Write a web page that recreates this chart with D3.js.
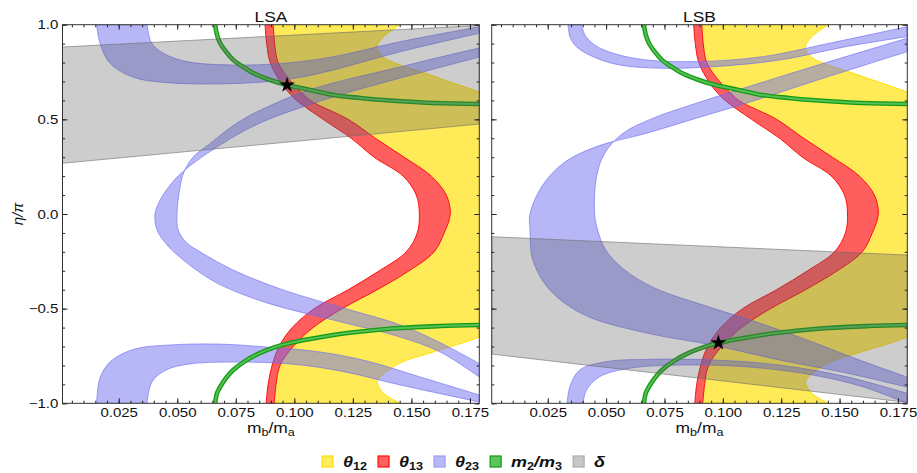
<!DOCTYPE html>
<html>
<head>
<meta charset="utf-8">
<script src="https://cdn.jsdelivr.net/npm/d3@7"></script>
<style>
  body { margin: 0; background: #fff; }
  svg { display: block; }
</style>
</head>
<body>
<svg id="chart" width="917" height="473"></svg>
<script>
// ---- data: [m_b/m_a, eta/pi] ----

// theta12 (yellow) region, left and right boundary, same in both panels
const th12Left = [[0.0892,1.0],[0.0899,0.9],[0.0914,0.8],[0.0963,0.7],[0.1038,0.6],[0.1177,0.5],[0.1294,0.4],[0.1405,0.3],[0.1525,0.2],[0.1585,0.1],[0.1600,0.0],[0.1583,-0.1],[0.1538,-0.2],[0.1427,-0.3],[0.1292,-0.4],[0.1145,-0.5],[0.1035,-0.6],[0.0965,-0.7],[0.0922,-0.8],[0.0905,-0.9],[0.0897,-1.0]];
const th12Right = [[0.1452,1.0],[0.1380,0.935],[0.1354,0.882],[0.1380,0.829],[0.1452,0.787],[0.1525,0.758],[0.1666,0.697],[0.1790,0.644],[0.1900,0.58],[0.1900,-0.58],[0.1790,-0.650],[0.1593,-0.729],[0.1452,-0.787],[0.1367,-0.861],[0.1354,-0.887],[0.1380,-0.946],[0.1452,-1.0]];

// theta13 (red) band edges, same in both panels
const th13Left = [[0.0875,1.0],[0.0882,0.9],[0.0897,0.8],[0.0939,0.7],[0.0970,0.65],[0.1010,0.6],[0.1123,0.5],[0.1243,0.4],[0.1341,0.3],[0.1465,0.2],[0.1521,0.1],[0.1534,0.0],[0.1525,-0.1],[0.1478,-0.2],[0.1363,-0.3],[0.1230,-0.4],[0.1085,-0.5],[0.0991,-0.6],[0.0935,-0.7],[0.0905,-0.8],[0.0888,-0.9],[0.0880,-1.0]];
const th13Right = [[0.0910,1.0],[0.0916,0.9],[0.0931,0.8],[0.0986,0.7],[0.1025,0.65],[0.1068,0.6],[0.1230,0.5],[0.1346,0.4],[0.1469,0.3],[0.1585,0.2],[0.1649,0.1],[0.1666,0.0],[0.1640,-0.1],[0.1597,-0.2],[0.1490,-0.3],[0.1354,-0.4],[0.1204,-0.5],[0.1080,-0.6],[0.0995,-0.7],[0.0939,-0.8],[0.0922,-0.9],[0.0914,-1.0]];

// m2/m3 (green) curves, same in both panels
const m23Upper = [[0.0662,1.0],[0.0670,0.946],[0.0683,0.903],[0.0709,0.856],[0.0739,0.814],[0.0781,0.777],[0.0824,0.745],[0.0897,0.708],[0.0969,0.681],[0.1068,0.655],[0.1166,0.629],[0.1281,0.613],[0.1380,0.602],[0.1593,0.586],[0.1790,0.581]];
const m23Lower = [[0.0662,-1.0],[0.0670,-0.946],[0.0683,-0.914],[0.0709,-0.866],[0.0739,-0.824],[0.0790,-0.777],[0.0854,-0.734],[0.0918,-0.703],[0.0982,-0.681],[0.1068,-0.660],[0.1166,-0.639],[0.1307,-0.618],[0.1452,-0.602],[0.1623,-0.592],[0.1790,-0.586]];

// theta23 (blue), LSA
const lsaS23Inner = [[0.1790,0.877],[0.1623,0.829],[0.1452,0.777],[0.1166,0.692],[0.1025,0.639],[0.0884,0.565],[0.0790,0.507],[0.0713,0.444],[0.0632,0.364],[0.0568,0.301],[0.0529,0.222],[0.0512,0.143],[0.0499,0.0],[0.0504,-0.085],[0.0538,-0.150],[0.0598,-0.200],[0.0739,-0.296],[0.0952,-0.401],[0.1239,-0.507],[0.1450,-0.585],[0.1623,-0.680],[0.1790,-0.790]];
const lsaS23Outer = [[0.1790,0.829],[0.1452,0.718],[0.1166,0.618],[0.0884,0.497],[0.0769,0.428],[0.0670,0.354],[0.0576,0.275],[0.0499,0.195],[0.0448,0.116],[0.0427,0.074],[0.0405,0.0],[0.0414,-0.085],[0.0457,-0.164],[0.0542,-0.259],[0.0670,-0.365],[0.0884,-0.470],[0.1166,-0.560],[0.1452,-0.650],[0.1623,-0.729],[0.1790,-0.861]];
const lsaHookTopIn = [[0.0371,1.0],[0.0391,0.902],[0.0441,0.849],[0.0541,0.805],[0.0740,0.787],[0.0954,0.796],[0.1167,0.831],[0.1452,0.910],[0.1790,0.989]];
const lsaHookTopOut = [[0.0156,1.0],[0.0170,0.902],[0.0213,0.796],[0.0313,0.722],[0.0455,0.694],[0.0669,0.687],[0.0883,0.699],[0.1025,0.722],[0.1167,0.761],[0.1452,0.857],[0.1790,0.955]];
const lsaHookBotIn = [[0.0371,-1.0],[0.0392,-0.887],[0.0452,-0.824],[0.0555,-0.792],[0.0739,-0.782],[0.0982,-0.792],[0.1196,-0.829],[0.1452,-0.903],[0.1790,-0.993]];
const lsaHookBotOut = [[0.0156,-1.0],[0.0170,-0.866],[0.0217,-0.777],[0.0320,-0.713],[0.0470,-0.692],[0.0670,-0.687],[0.0884,-0.703],[0.1110,-0.729],[0.1311,-0.777],[0.1538,-0.861],[0.1790,-0.956]];

// theta23 (blue), LSB
const lsbS23Inner = [[0.1788,0.928],[0.1384,0.778],[0.1100,0.669],[0.0886,0.585],[0.0701,0.506],[0.0572,0.426],[0.0494,0.321],[0.0459,0.197],[0.0451,0.0],[0.0464,-0.085],[0.0498,-0.190],[0.0580,-0.296],[0.0708,-0.391],[0.0956,-0.497],[0.1169,-0.581],[0.1383,-0.676],[0.1597,-0.777],[0.1788,-0.861]];
const lsbS23Outer = [[0.1788,0.857],[0.1384,0.699],[0.1100,0.585],[0.0886,0.506],[0.0672,0.426],[0.0459,0.356],[0.0316,0.268],[0.0224,0.144],[0.0174,0.0],[0.0174,-0.085],[0.0186,-0.243],[0.0259,-0.401],[0.0409,-0.534],[0.0674,-0.629],[0.0956,-0.692],[0.1242,-0.771],[0.1529,-0.840],[0.1788,-0.914]];
const lsbHookTopIn = [[0.0395,1.0],[0.0409,0.946],[0.0451,0.893],[0.0530,0.849],[0.0672,0.814],[0.0886,0.805],[0.1171,0.831],[0.1456,0.902],[0.1788,0.989]];
const lsbHookTopOut = [[0.0337,1.0],[0.0345,0.937],[0.0373,0.884],[0.0444,0.831],[0.0558,0.787],[0.0743,0.770],[0.0957,0.778],[0.1242,0.813],[0.1527,0.884],[0.1788,0.937]];
const lsbHookBotIn = [[0.0401,-1.0],[0.0416,-0.930],[0.0473,-0.859],[0.0601,-0.815],[0.0815,-0.798],[0.1100,-0.807],[0.1384,-0.850],[0.1598,-0.912],[0.1788,-1.0]];
const lsbHookBotOut = [[0.0333,-1.0],[0.0345,-0.912],[0.0387,-0.824],[0.0501,-0.780],[0.0672,-0.768],[0.0957,-0.771],[0.1242,-0.798],[0.1527,-0.859],[0.1788,-0.947]];

// delta (gray) bands
const lsaDeltaUpper = [[0.001,0.882],[0.179,0.996]];
const lsaDeltaLower = [[0.001,0.268],[0.179,0.475]];
const lsbDeltaUpper = [[0.001,-0.120],[0.179,-0.217]];
const lsbDeltaLower = [[0.001,-0.740],[0.179,-0.995]];

// best-fit points
const lsaStar = [0.0969, 0.681];
const lsbStar = [0.0981, -0.680];

// ticks and legend
const xMajorTicks = [0.025, 0.05, 0.075, 0.1, 0.125, 0.15, 0.175];
const yMajorTicks = [-1, -0.5, 0, 0.5, 1];
const legendLabels = [
  [["θ", 0], ["12", 1]],
  [["θ", 0], ["13", 1]],
  [["θ", 0], ["23", 1]],
  [["m", 0], ["2", 1], ["/", 0], ["m", 0], ["3", 1]],
  [["δ", 0]]
];

// ---- styles ----
const fontFam = "'Liberation Sans', Arial, Helvetica, sans-serif";
const stretch = "scale(1.2,1)";
const colors = {
  yellow: "#FFEA57", yellowLine: "#FFE000",
  red: "#FF5E5E", redLine: "#FF1010",
  blue: "rgba(105,105,240,0.48)", blueLine: "rgba(110,110,240,0.7)",
  green: "#139b13", greenIn: "#55c055",
  gray: "rgba(90,90,90,0.3)", grayLine: "rgba(110,110,110,0.6)"
};
const legendFill = ["#FFEA60", "#FF6060", "#B9B9F8", "#5CC65C", "#C6C6C6"];
const legendStroke = ["#FFE000", "#FF1010", "#9C9CEE", "#139b13", "#ADADAD"];

const mDomain = [0.001, 0.179];
const plotTop = 24.7, plotBottom = 403.3;
const svg = d3.select("#chart");

const panels = [
  { title: "LSA", left: 62.5, right: 479.3, yLabels: true,
    s23: [lsaS23Inner, lsaS23Outer], hooks: [[lsaHookTopIn, lsaHookTopOut], [lsaHookBotIn, lsaHookBotOut]],
    delta: [lsaDeltaUpper, lsaDeltaLower], star: lsaStar },
  { title: "LSB", left: 491.7, right: 907.3, yLabels: false,
    s23: [lsbS23Inner, lsbS23Outer], hooks: [[lsbHookTopIn, lsbHookTopOut], [lsbHookBotIn, lsbHookBotOut]],
    delta: [lsbDeltaUpper, lsbDeltaLower], star: lsbStar }
];

panels.forEach((p, i) => {
  const x = d3.scaleLinear().domain(mDomain).range([p.left, p.right]);
  const y = d3.scaleLinear().domain([-1, 1]).range([plotBottom, plotTop]);

  const line = d3.line()
    .x(d => x(d[0]))
    .y(d => y(d[1]))
    .curve(d3.curveCatmullRom.alpha(0.5));
  // closed region between two boundary curves
  const band = (a, b) => line(a) + "L" + line(b.slice().reverse()).slice(1) + "Z";

  svg.append("clipPath").attr("id", "clip" + i)
    .append("rect")
    .attr("x", p.left).attr("y", plotTop)
    .attr("width", p.right - p.left).attr("height", plotBottom - plotTop);

  const g = svg.append("g").attr("clip-path", `url(#clip${i})`);

  // theta12
  g.append("path").attr("d", band(th12Left, th12Right))
    .attr("fill", colors.yellow).attr("stroke", colors.yellowLine).attr("stroke-width", 1);

  // theta13
  g.append("path").attr("d", band(th13Left, th13Right))
    .attr("fill", colors.red).attr("stroke", colors.redLine).attr("stroke-width", 1);

  // theta23
  [p.s23, ...p.hooks].forEach(([a, b]) => {
    g.append("path").attr("d", band(a, b))
      .attr("fill", colors.blue).attr("stroke", colors.blueLine).attr("stroke-width", 0.9);
  });

  // m2/m3
  [m23Upper, m23Lower].forEach(c => {
    g.append("path").attr("d", line(c)).attr("fill", "none")
      .attr("stroke", colors.green).attr("stroke-width", 4.6);
    g.append("path").attr("d", line(c)).attr("fill", "none")
      .attr("stroke", colors.greenIn).attr("stroke-width", 2);
  });

  // delta
  g.append("path").attr("d", band(p.delta[0], p.delta[1]))
    .attr("fill", colors.gray).attr("stroke", colors.grayLine).attr("stroke-width", 1);

  // star
  svg.append("path")
    .attr("d", d3.symbol().type(d3.symbolStar).size(78)())
    .attr("transform", `translate(${x(p.star[0])},${y(p.star[1])})`)
    .attr("fill", "#000");

  // ticks on all four sides, pointing inward
  const xMinor = d3.range(0.005, 0.1751, 0.005);
  const yMinor = d3.range(-1, 1.0001, 0.1);
  const styleAxis = a => a.attr("color", "#222")
    .attr("font-family", fontFam).attr("font-size", 12.5)
    .call(s => s.select(".domain").remove());

  const axes = [
    [d3.axisBottom(x), `translate(0,${plotBottom})`, xMajorTicks, xMinor, true],
    [d3.axisTop(x), `translate(0,${plotTop})`, xMajorTicks, xMinor, false],
    [d3.axisLeft(y), `translate(${p.left},0)`, yMajorTicks, yMinor, p.yLabels],
    [d3.axisRight(y), `translate(${p.right},0)`, yMajorTicks, yMinor, false]
  ];
  axes.forEach(([ax, tr, major, minor, labels]) => {
    const isX = major === xMajorTicks;
    const fmt = isX ? d3.format(".3f") : d3.format(".1f");
    svg.append("g").attr("transform", tr)
      .call(ax.tickValues(minor).tickSize(-2.6).tickFormat(""))
      .call(styleAxis);
    const maj = svg.append("g").attr("transform", tr)
      .call(ax.tickValues(major).tickSize(-5).tickPadding(isX ? 4.5 : 3.5)
        .tickFormat(labels ? fmt : ""))
      .call(styleAxis);
    maj.selectAll("text").attr("transform", stretch).attr("fill", "#111");
  });

  // frame
  svg.append("rect")
    .attr("x", p.left).attr("y", plotTop)
    .attr("width", p.right - p.left).attr("height", plotBottom - plotTop)
    .attr("fill", "none").attr("stroke", "#333").attr("stroke-width", 1);

  // title
  svg.append("text")
    .attr("transform", `translate(${(p.left + p.right) / 2},21.5) ${stretch}`)
    .attr("text-anchor", "middle")
    .attr("font-family", fontFam).attr("font-size", 14.5).attr("fill", "#111")
    .text(p.title);

  // x label m_b/m_a
  const xl = svg.append("text")
    .attr("transform", `translate(${(p.left + p.right) / 2},433) ${stretch}`)
    .attr("text-anchor", "middle")
    .attr("font-family", fontFam).attr("font-size", 14.5).attr("fill", "#111");
  xl.append("tspan").text("m");
  xl.append("tspan").attr("font-size", 10.5).attr("dy", 3).text("b");
  xl.append("tspan").attr("dy", -3).text("/m");
  xl.append("tspan").attr("font-size", 10.5).attr("dy", 3).text("a");
});

// y label
svg.append("text")
  .attr("transform", "translate(23,214) rotate(-90)")
  .attr("text-anchor", "middle")
  .attr("font-family", fontFam).attr("font-size", 15).attr("font-style", "italic")
  .attr("fill", "#111")
  .text("η/π");

// legend
let lx = 322;
legendLabels.forEach((pieces, i) => {
  svg.append("rect")
    .attr("x", lx).attr("y", 456).attr("width", 11).attr("height", 11)
    .attr("fill", legendFill[i]).attr("stroke", legendStroke[i]).attr("stroke-width", 1.2);
  const tx = lx + 21;
  const t = svg.append("text")
    .attr("transform", `translate(${tx},466.5) ${stretch}`)
    .attr("font-family", fontFam).attr("font-size", 15)
    .attr("font-weight", "bold").attr("font-style", "italic").attr("fill", "#111");
  let down = false;
  pieces.forEach(([s, sub]) => {
    const ts = t.append("tspan").text(s);
    if (sub) {
      ts.attr("font-size", 10.5).attr("font-style", "normal");
      if (!down) { ts.attr("dy", 3); down = true; }
    } else if (down) {
      ts.attr("dy", -3); down = false;
    }
  });
  lx = tx + t.node().getComputedTextLength() * 1.2 + 11;
});
</script>
</body>
</html>
